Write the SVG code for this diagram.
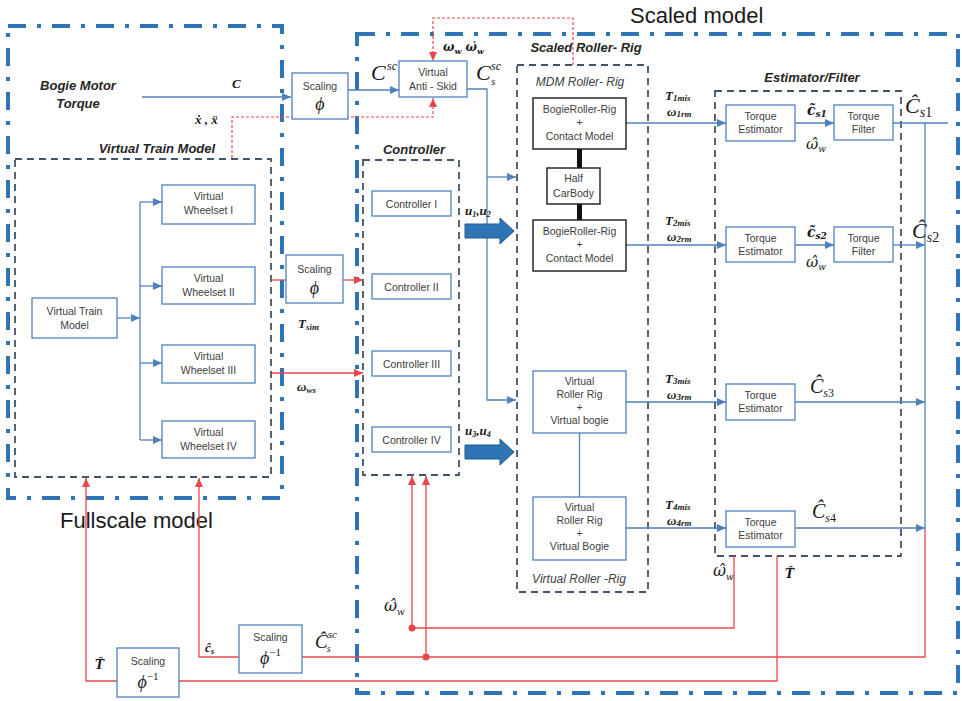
<svg xmlns="http://www.w3.org/2000/svg" width="962" height="701" viewBox="0 0 962 701">
<defs>
<marker id="ab" markerUnits="userSpaceOnUse" markerWidth="9" markerHeight="8" refX="9" refY="4" orient="auto"><path d="M0,0 L9,4 L0,8 z" fill="#4f81bd"/></marker>
<marker id="ar" markerUnits="userSpaceOnUse" markerWidth="9" markerHeight="8" refX="9" refY="4" orient="auto"><path d="M0,0 L9,4 L0,8 z" fill="#e8474c"/></marker>
<style>
.dd{fill:none;stroke:#2e75b6;stroke-width:4;stroke-dasharray:18 11 4 11}
.dash{fill:none;stroke:#44546a;stroke-width:1.8;stroke-dasharray:7 5}
.box{fill:#fff;stroke:#4f81bd;stroke-width:1.3}
.kbox{fill:#fff;stroke:#1a1a1a;stroke-width:1.4}
.ln{fill:none;stroke:#4f81bd;stroke-width:1.3}
.rl{fill:none;stroke:#e8474c;stroke-width:1.3}
.rd{fill:none;stroke:#e8474c;stroke-width:1.2;stroke-dasharray:3 2}
.t{font-family:"Liberation Sans","Open Sans",sans-serif;font-size:10.5px;fill:#404040;text-anchor:middle}
.h{font-family:"Liberation Sans","Open Sans",sans-serif;font-size:13px;font-weight:bold;font-style:italic;fill:#262626;text-anchor:middle}
.it{font-family:"Liberation Sans","Open Sans",sans-serif;font-size:12px;font-style:italic;fill:#404040;text-anchor:middle}
.big{font-family:"Liberation Sans","Open Sans",sans-serif;font-size:22px;fill:#1a1a1a}
.m{font-family:"Liberation Serif","DejaVu Serif",serif;font-weight:bold;font-style:italic;font-size:13px;fill:#1a1a1a}
.mi{font-family:"Liberation Serif","DejaVu Serif",serif;font-style:italic;fill:#1a1a1a}
.ac{font-family:"DejaVu Serif",serif;font-style:italic;fill:#1a1a1a}
.phi{font-family:"Liberation Serif","DejaVu Serif",serif;font-style:italic;font-size:18px;fill:#1a1a1a;text-anchor:middle}
.blk{fill:#2e75b6;stroke:#1f5a96;stroke-width:1}
</style>
</defs>
<rect width="962" height="701" fill="#fff"/>

<g id="frames">
<rect class="dd" x="8" y="26" width="274" height="472"/>
<rect class="dd" x="357" y="34" width="601" height="659"/>
<rect class="dash" x="15" y="159" width="256" height="318"/>
<rect class="dash" x="363" y="160" width="96" height="315"/>
<rect class="dash" x="517" y="65" width="131" height="527"/>
<rect class="dash" x="715" y="91" width="186" height="465"/>
<text class="big" x="630" y="23">Scaled model</text>
<text class="big" x="60" y="528">Fullscale model</text>
<text class="h" x="78" y="90" font-size="13.5">Bogie Motor</text>
<text class="h" x="78" y="108" font-size="13.5">Torque</text>
<text class="h" x="157" y="153">Virtual Train Model</text>
<text class="h" x="414" y="154">Controller</text>
<text class="h" x="586" y="52" font-size="12.5">Scaled Roller- Rig</text>
<text class="it" x="580" y="86">MDM Roller- Rig</text>
<text class="it" x="579" y="583">Virtual Roller -Rig</text>
<text class="h" x="812" y="82" font-size="14">Estimator/Filter</text>
</g>

<g id="connectors">
<path class="ln" d="M142,97 H291" marker-end="url(#ab)"/>
<path class="ln" d="M348,90 H399" marker-end="url(#ab)"/>
<path class="ln" d="M467,89 H487 V400 H516" marker-end="url(#ab)"/>
<path class="ln" d="M487,177 H516" marker-end="url(#ab)"/>
<path class="ln" d="M117,318 H140" marker-end="url(#ab)"/>
<path class="ln" d="M140,202 V440"/>
<path class="ln" d="M140,202 H162" marker-end="url(#ab)"/>
<path class="ln" d="M140,286 H162" marker-end="url(#ab)"/>
<path class="ln" d="M140,363 H162" marker-end="url(#ab)"/>
<path class="ln" d="M140,440 H162" marker-end="url(#ab)"/>
<path class="ln" d="M626,123 H726" marker-end="url(#ab)"/>
<path class="ln" d="M626,245 H726" marker-end="url(#ab)"/>
<path class="ln" d="M626,402 H726" marker-end="url(#ab)"/>
<path class="ln" d="M626,528 H726" marker-end="url(#ab)"/>
<path class="ln" d="M795,123 H834" marker-end="url(#ab)"/>
<path class="ln" d="M795,245 H834" marker-end="url(#ab)"/>
<path class="ln" d="M893,123 H948"/>
<path class="ln" d="M893,245 H925" marker-end="url(#ab)"/>
<path class="ln" d="M795,402 H925" marker-end="url(#ab)"/>
<path class="ln" d="M795,528 H925" marker-end="url(#ab)"/>
<path class="ln" d="M925,123 V529"/>
<path class="ln" d="M579.5,433 V497"/>
<path d="M579.5,149 V168 M579.5,204 V220" stroke="#111" stroke-width="5" fill="none"/>
<path class="blk" d="M465,224 H500 V218 L514,231 L500,244 V238 H465 Z"/>
<path class="blk" d="M465,445 H500 V439 L514,452 L500,465 V459 H465 Z"/>
<path class="rl" d="M271,280 H286"/>
<path class="rl" d="M343,280 H363" marker-end="url(#ar)"/>
<path class="rl" d="M272,373 H363" marker-end="url(#ar)"/>
<path class="rl" d="M734,556 V628 H412 V476" marker-end="url(#ar)"/>
<path class="rl" d="M925,529 V657 H302"/>
<path class="rl" d="M426,657 V476" marker-end="url(#ar)"/>
<path class="rl" d="M239,657 H199 V478" marker-end="url(#ar)"/>
<path class="rl" d="M777,556 V681 H179"/>
<path class="rl" d="M117,681 H86 V478" marker-end="url(#ar)"/>
<circle cx="412" cy="628" r="3.5" fill="#e8474c"/>
<circle cx="426" cy="657" r="3.5" fill="#e8474c"/>
<path class="rd" d="M573,65 V18 H433 V61" marker-end="url(#ar)"/>
<path class="rd" d="M232,158 V117 H433 V98" marker-end="url(#ar)"/>
</g>

<g id="labels">
<text class="m" x="232" y="88" font-size="15">C</text>
<text class="m" x="195" y="124" font-size="12">ẋ , ẍ</text>
<text class="ac" x="443" y="51" font-size="12" font-weight="bold">ω<tspan font-size="8" dy="3">w</tspan><tspan dy="-3"> ω̇</tspan><tspan font-size="8" dy="3">w</tspan></text>
<text class="mi" x="371" y="80" font-size="22">C</text>
<text class="mi" x="387" y="70" font-size="12">sc</text>
<text class="mi" x="476" y="80" font-size="22">C</text>
<text class="mi" x="491" y="70" font-size="12">sc</text>
<text class="mi" x="491" y="85" font-size="11">s</text>
<text class="m" x="665" y="100" font-size="14">T<tspan font-size="9" dy="1">1mis</tspan></text>
<text class="m" x="667" y="116">ω<tspan font-size="9" dy="1">1rm</tspan></text>
<text class="m" x="665" y="225" font-size="14">T<tspan font-size="9" dy="1">2mis</tspan></text>
<text class="m" x="667" y="241">ω<tspan font-size="9" dy="1">2rm</tspan></text>
<text class="m" x="665" y="383" font-size="14">T<tspan font-size="9" dy="1">3mis</tspan></text>
<text class="m" x="667" y="399">ω<tspan font-size="9" dy="1">3rm</tspan></text>
<text class="m" x="665" y="509" font-size="14">T<tspan font-size="9" dy="1">4mis</tspan></text>
<text class="m" x="667" y="525">ω<tspan font-size="9" dy="1">4rm</tspan></text>
<text class="ac" x="807" y="115" font-size="14" font-weight="bold">c̃<tspan font-size="9" dy="2">s1</tspan></text>
<text class="ac" x="806" y="149" font-size="15">ω̂<tspan font-size="9" dy="3">w</tspan></text>
<text class="ac" x="807" y="237" font-size="14" font-weight="bold">c̃<tspan font-size="9" dy="2">s2</tspan></text>
<text class="ac" x="806" y="267" font-size="15">ω̂<tspan font-size="9" dy="3">w</tspan></text>
<text class="mi" x="905" y="113" font-size="22">Ĉ<tspan font-size="14" dy="4">s</tspan><tspan font-size="14" font-style="normal">1</tspan></text>
<text class="mi" x="912" y="238" font-size="22">Ĉ<tspan font-size="14" dy="4">s</tspan><tspan font-size="14" font-style="normal">2</tspan></text>
<text class="mi" x="810" y="393" font-size="20">Ĉ<tspan font-size="12" dy="4">s</tspan><tspan font-size="12" font-style="normal">3</tspan></text>
<text class="mi" x="812" y="518" font-size="20">Ĉ<tspan font-size="12" dy="4">s</tspan><tspan font-size="12" font-style="normal">4</tspan></text>
<text class="m" x="465" y="215" font-size="12">u<tspan font-size="8" dy="2">1</tspan><tspan dy="-2">,u</tspan><tspan font-size="8" dy="2">2</tspan></text>
<text class="m" x="465" y="435" font-size="12">u<tspan font-size="8" dy="2">3</tspan><tspan dy="-2">,u</tspan><tspan font-size="8" dy="2">4</tspan></text>
<text class="m" x="298" y="328" font-size="13">T<tspan font-size="9" dy="2">sim</tspan></text>
<text class="m" x="297" y="391" font-size="13">ω<tspan font-size="9" dy="2">ws</tspan></text>
<text class="ac" x="384" y="611" font-size="16">ω̂<tspan font-size="9" dy="4">w</tspan></text>
<text class="m" x="205" y="652" font-size="14">ĉ<tspan font-size="9" dy="2">s</tspan></text>
<text class="mi" x="315" y="648" font-size="19">Ĉ<tspan font-size="11" dy="-10">sc</tspan><tspan font-size="10" dx="-10" dy="14">s</tspan></text>
<text class="ac" x="95" y="669" font-size="12" font-weight="bold">T̂</text>
<text class="ac" x="713" y="576" font-size="16">ω̂<tspan font-size="9" dy="4">w</tspan></text>
<text class="ac" x="785" y="578" font-size="12" font-weight="bold">T̂</text>
</g>

<g id="scaling1"><rect class="box" x="292" y="73" width="56" height="46"/><text class="t" x="320" y="90">Scaling</text><text class="phi" x="320" y="110">ϕ</text></g>
<g id="antiskid"><rect class="box" x="399" y="61" width="68" height="36"/><text class="t" x="433" y="76">Virtual</text><text class="t" x="433" y="90">Anti - Skid</text></g>
<g id="vtm"><rect class="box" x="32" y="298" width="85" height="40"/><text class="t" x="74.5" y="315">Virtual Train</text><text class="t" x="74.5" y="329">Model</text></g>
<g id="ws1"><rect class="box" x="162" y="185" width="93" height="39"/><text class="t" x="208.5" y="200">Virtual</text><text class="t" x="208.5" y="214">Wheelset I</text></g>
<g id="ws2"><rect class="box" x="162" y="267" width="93" height="37"/><text class="t" x="208.5" y="282">Virtual</text><text class="t" x="208.5" y="296">Wheelset II</text></g>
<g id="ws3"><rect class="box" x="162" y="345" width="93" height="38"/><text class="t" x="208.5" y="360">Virtual</text><text class="t" x="208.5" y="374">Wheelset III</text></g>
<g id="ws4"><rect class="box" x="162" y="421" width="93" height="37"/><text class="t" x="208.5" y="436">Virtual</text><text class="t" x="208.5" y="450">Wheelset IV</text></g>
<g id="scaling2"><rect class="box" x="286" y="255" width="57" height="48"/><text class="t" x="314.5" y="273">Scaling</text><text class="phi" x="314.5" y="294">ϕ</text></g>
<g id="ctrl1"><rect class="box" x="372" y="191" width="79" height="25"/><text class="t" x="411.5" y="207.5">Controller I</text></g>
<g id="ctrl2"><rect class="box" x="372" y="274" width="79" height="25"/><text class="t" x="411.5" y="290.5">Controller II</text></g>
<g id="ctrl3"><rect class="box" x="372" y="351" width="79" height="25"/><text class="t" x="411.5" y="367.5">Controller III</text></g>
<g id="ctrl4"><rect class="box" x="372" y="427" width="79" height="25"/><text class="t" x="411.5" y="443.5">Controller IV</text></g>
<g id="bogie1"><rect class="kbox" x="533" y="98" width="93" height="51"/><text class="t" x="579.5" y="113">BogieRoller-Rig</text><text class="t" x="579.5" y="126">+</text><text class="t" x="579.5" y="140">Contact Model</text></g>
<g id="halfcar"><rect class="kbox" x="547" y="168" width="53" height="36"/><text class="t" x="573.5" y="182">Half</text><text class="t" x="573.5" y="197">CarBody</text></g>
<g id="bogie2"><rect class="kbox" x="533" y="220" width="93" height="51"/><text class="t" x="579.5" y="235">BogieRoller-Rig</text><text class="t" x="579.5" y="248">+</text><text class="t" x="579.5" y="262">Contact Model</text></g>
<g id="vrr1"><rect class="box" x="533" y="371" width="93" height="62"/><text class="t" x="579.5" y="385">Virtual</text><text class="t" x="579.5" y="398">Roller Rig</text><text class="t" x="579.5" y="411">+</text><text class="t" x="579.5" y="424">Virtual bogie</text></g>
<g id="vrr2"><rect class="box" x="533" y="497" width="93" height="63"/><text class="t" x="579.5" y="511">Virtual</text><text class="t" x="579.5" y="524">Roller Rig</text><text class="t" x="579.5" y="537">+</text><text class="t" x="579.5" y="550">Virtual Bogie</text></g>
<g id="te1"><rect class="box" x="726" y="105" width="69" height="36"/><text class="t" x="760.5" y="120">Torque</text><text class="t" x="760.5" y="133">Estimator</text></g>
<g id="tf1"><rect class="box" x="834" y="105" width="59" height="35"/><text class="t" x="863.5" y="120">Torque</text><text class="t" x="863.5" y="133">Filter</text></g>
<g id="te2"><rect class="box" x="726" y="227" width="69" height="35"/><text class="t" x="760.5" y="242">Torque</text><text class="t" x="760.5" y="255">Estimator</text></g>
<g id="tf2"><rect class="box" x="834" y="227" width="59" height="35"/><text class="t" x="863.5" y="242">Torque</text><text class="t" x="863.5" y="255">Filter</text></g>
<g id="te3"><rect class="box" x="726" y="384" width="69" height="36"/><text class="t" x="760.5" y="399">Torque</text><text class="t" x="760.5" y="412">Estimator</text></g>
<g id="te4"><rect class="box" x="726" y="511" width="69" height="36"/><text class="t" x="760.5" y="526">Torque</text><text class="t" x="760.5" y="539">Estimator</text></g>
<g id="scalinginv1"><rect class="box" x="117" y="648" width="62" height="49"/><text class="t" x="148" y="665">Scaling</text><text class="phi" x="148" y="688">ϕ<tspan font-size="11" dy="-8" font-style="normal">−1</tspan></text></g>
<g id="scalinginv2"><rect class="box" x="239" y="625" width="63" height="48"/><text class="t" x="270.5" y="641">Scaling</text><text class="phi" x="270.5" y="664">ϕ<tspan font-size="11" dy="-8" font-style="normal">−1</tspan></text></g>
</svg>
